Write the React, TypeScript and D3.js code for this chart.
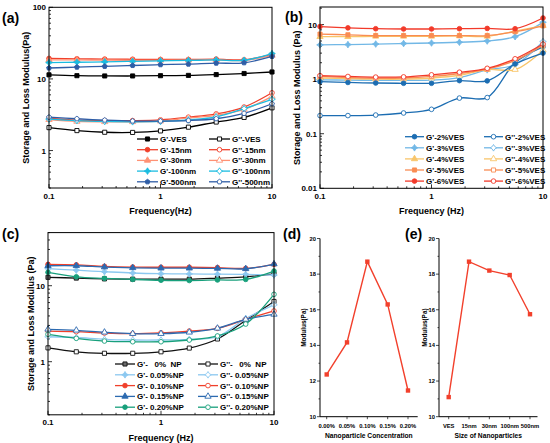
import React, { useRef, useEffect } from 'react';
import * as d3 from 'd3';

// shared frequency sweep (Hz)
const freq = [0.1, 0.178, 0.316, 0.562, 1, 1.78, 3.16, 5.62, 10];

// (a) particle size
const aNames = ['VES', '15nm', '30nm', '100nm', '500nm'];
const aGp = [
  [11.4, 11.1, 11.0, 11.0, 11.1, 11.2, 11.5, 11.9, 12.5],
  [19.3, 19.1, 18.9, 18.8, 18.7, 18.7, 18.9, 18.5, 22.0],
  [18.5, 18.4, 18.3, 18.2, 18.2, 18.3, 18.4, 18.1, 21.3],
  [16.9, 17.1, 17.3, 17.6, 17.9, 18.1, 18.4, 18.2, 22.6],
  [14.2, 14.6, 15.0, 15.4, 15.8, 16.1, 16.6, 16.8, 20.6]
];
const aGpp = [
  [2.09, 1.9, 1.8, 1.79, 1.88, 2.12, 2.5, 2.9, 3.95],
  [2.8, 2.65, 2.62, 2.62, 2.68, 2.92, 3.25, 4.05, 6.4],
  [2.7, 2.55, 2.52, 2.52, 2.58, 2.85, 3.1, 3.75, 5.7],
  [2.75, 2.62, 2.55, 2.52, 2.55, 2.68, 2.95, 3.85, 5.2],
  [2.92, 2.78, 2.66, 2.58, 2.58, 2.62, 2.78, 3.3, 4.5]
];

// (b) VES concentration
const bNames = ['2%VES', '3%VES', '4%VES', '5%VES', '6%VES'];
const bGp = [
  [0.9, 0.87, 0.85, 0.84, 0.84, 0.94, 0.93, 1.9, 3.0],
  [4.25, 4.3, 4.4, 4.5, 4.6, 4.75, 5.0, 6.0, 11.0],
  [6.0, 6.0, 6.1, 6.1, 6.1, 6.2, 6.1, 7.6, 9.6],
  [6.7, 6.5, 6.3, 6.3, 6.3, 6.3, 6.3, 7.4, 9.5],
  [9.2, 8.7, 8.4, 8.3, 8.3, 8.4, 8.5, 8.4, 13.2]
];
const bGpp = [
  [0.215, 0.215, 0.22, 0.24, 0.28, 0.45, 0.46, 2.0, 3.9],
  [0.97, 0.96, 0.95, 0.95, 0.96, 1.07, 1.48, 1.85, 4.9],
  [1.05, 1.02, 1.0, 1.0, 1.05, 1.18, 1.5, 1.5, 3.4],
  [1.12, 1.07, 1.04, 1.05, 1.12, 1.27, 1.52, 2.2, 4.2],
  [1.16, 1.12, 1.09, 1.1, 1.2, 1.34, 1.58, 2.36, 4.4]
];

// (c) nanoparticle concentration
const cGpLabels = ["G'-   0%  NP", "G'- 0.05%NP", "G'- 0.10%NP", "G'- 0.15%NP", "G'- 0.20%NP"];
const cGppLabels = ["G''-   0%  NP", "G''- 0.05%NP", "G''- 0.10%NP", "G''- 0.15%NP", "G''- 0.20%NP"];
const cGp = [
  [12.9, 12.6, 12.3, 12.2, 12.2, 12.2, 12.6, 13.1, 14.3],
  [16.8, 16.0, 15.3, 14.7, 14.4, 14.3, 14.2, 14.1, 13.8],
  [19.1, 18.8, 18.0, 17.6, 17.5, 17.5, 17.3, 16.9, 19.1],
  [18.3, 18.3, 17.6, 17.2, 17.0, 17.0, 16.9, 16.7, 19.3],
  [15.0, 13.1, 12.5, 12.1, 11.8, 11.7, 11.9, 12.1, 15.6]
];
const cGpp = [
  [1.52, 1.35, 1.29, 1.29, 1.35, 1.51, 1.99, 3.5, 6.2],
  [2.13, 2.08, 1.97, 1.93, 1.93, 1.97, 2.13, 3.7, 5.6],
  [2.53, 2.48, 2.38, 2.34, 2.4, 2.53, 2.75, 3.6, 4.65],
  [2.67, 2.59, 2.44, 2.34, 2.34, 2.44, 2.75, 3.6, 4.2],
  [2.29, 2.03, 1.87, 1.83, 1.83, 1.93, 2.18, 3.13, 7.7]
];

// (d), (e)
const dCats = ['0.00%', '0.05%', '0.10%', '0.15%', '0.20%'];
const dVals = [12.37, 14.17, 18.7, 16.3, 11.47];
const eCats = ['VES', '15nm', '30nm', '100nm', '500nm'];
const eVals = [11.1, 18.7, 18.2, 17.95, 15.75];
const modTicks = [10, 12, 14, 16, 18, 20];

const FONT = "'Liberation Sans', Arial, sans-serif";

// 4 point star marker
const star4 = {
  draw(ctx: any, size: number) {
    const r = Math.sqrt(size) * 0.8;
    const s = r * 0.38;
    ctx.moveTo(0, -r);
    ctx.lineTo(s, -s);
    ctx.lineTo(r, 0);
    ctx.lineTo(s, s);
    ctx.lineTo(0, r);
    ctx.lineTo(-s, s);
    ctx.lineTo(-r, 0);
    ctx.lineTo(-s, -s);
    ctx.closePath();
  }
};
const pentagon = {
  draw(ctx: any, size: number) {
    const r = Math.sqrt(size) * 0.62;
    for (let i = 0; i < 5; i++) {
      const a = -Math.PI / 2 + (i * 2 * Math.PI) / 5;
      if (i === 0) ctx.moveTo(r * Math.cos(a), r * Math.sin(a));
      else ctx.lineTo(r * Math.cos(a), r * Math.sin(a));
    }
    ctx.closePath();
  }
};

type Ser = { gp: number[]; gpp: number[]; color: string; sym: any; l1: string; l2: string; mfill?: string };

function drawLog(svg: any, p: any, series: Ser[]) {
  const x = d3.scaleLog().domain([0.1, 10]).range([p.l, p.r]);
  const y = d3.scaleLog().domain(p.yd).range([p.b, p.t]);
  const g = svg.append('g');
  const isMajor = (v: number) => Math.abs(Math.log10(v) - Math.round(Math.log10(v))) < 1e-6;
  const fmt = (v: number) => String(+v.toPrecision(3));

  // ticks (inward)
  x.ticks().forEach((v: number) => {
    const len = isMajor(v) ? 4 : 2;
    g.append('line').attr('x1', x(v)).attr('x2', x(v)).attr('y1', p.b).attr('y2', p.b - len).attr('stroke', '#000').attr('stroke-width', 0.8);
  });
  y.ticks().forEach((v: number) => {
    const len = isMajor(v) ? 4 : 2;
    g.append('line').attr('x1', p.l).attr('x2', p.l + len).attr('y1', y(v)).attr('y2', y(v)).attr('stroke', '#000').attr('stroke-width', 0.8);
  });

  const line = d3
    .line<number>()
    .x((_d, i) => x(freq[i]))
    .y((d) => y(d))
    .curve(d3.curveCatmullRom.alpha(0.5));

  const drawSeries = (vals: number[], s: Ser, filled: boolean) => {
    g.append('path').attr('d', line(vals)).attr('fill', 'none').attr('stroke', s.color).attr('stroke-width', 1.3);
    const sym = d3.symbol().type(s.sym).size(17);
    g.selectAll(null)
      .data(vals)
      .join('path')
      .attr('transform', (d: number, i: number) => `translate(${x(freq[i])},${y(d)})`)
      .attr('d', sym())
      .attr('fill', filled ? s.mfill || s.color : '#fff')
      .attr('stroke', s.color)
      .attr('stroke-width', 0.9);
  };
  series.forEach((s) => drawSeries(s.gpp, s, false));
  series.forEach((s) => drawSeries(s.gp, s, true));

  g.append('rect').attr('x', p.l).attr('y', p.t).attr('width', p.r - p.l).attr('height', p.b - p.t).attr('fill', 'none').attr('stroke', '#000').attr('stroke-width', 1);

  // tick labels
  x.ticks()
    .filter(isMajor)
    .forEach((v: number) => {
      g.append('text').attr('x', x(v)).attr('y', p.b + 10.5).attr('text-anchor', 'middle').attr('font-size', 8).text(fmt(v));
    });
  y.ticks()
    .filter(isMajor)
    .forEach((v: number) => {
      g.append('text').attr('x', p.l - 3).attr('y', y(v) + 3).attr('text-anchor', 'end').attr('font-size', 8).text(fmt(v));
    });

  // titles
  g.append('text').attr('x', (p.l + p.r) / 2).attr('y', p.b + 26).attr('text-anchor', 'middle').attr('font-size', 9).text(p.xTitle);
  g.append('text')
    .attr('transform', `translate(${p.ytx + 3},${(p.t + p.b) / 2}) rotate(-90)`)
    .attr('text-anchor', 'middle')
    .attr('font-size', 9)
    .text(p.yTitle);
  g.append('text').attr('x', p.tagX).attr('y', p.tagY).attr('font-size', 14).text(p.tag);

  // legend
  series.forEach((s, i) => {
    const ly = p.legY + i * p.legDy;
    [
      [p.lx1, s.l1, true],
      [p.lx2, s.l2, false]
    ].forEach(([lx, lab, filled]: any) => {
      g.append('line').attr('x1', lx).attr('x2', lx + p.lw).attr('y1', ly).attr('y2', ly).attr('stroke', s.color).attr('stroke-width', 1.3);
      g.append('path')
        .attr('transform', `translate(${lx + p.lw / 2},${ly})`)
        .attr('d', d3.symbol().type(s.sym).size(17)())
        .attr('fill', filled ? s.mfill || s.color : '#fff')
        .attr('stroke', s.color)
        .attr('stroke-width', 0.9);
      g.append('text')
        .attr('x', lx + p.lw + 2)
        .attr('y', ly + 3)
        .attr('font-size', 8)
        .attr('xml:space', 'preserve')
        .style('white-space', 'pre')
        .text(lab);
    });
  });
}

function drawCat(svg: any, p: any, cats: string[], vals: number[]) {
  const x = d3.scalePoint().domain(cats).range([p.px0, p.px1]);
  const y = d3.scaleLinear().domain([10, 20]).range([p.b, p.t]);
  const g = svg.append('g');
  g.append('line').attr('x1', p.l).attr('x2', p.l).attr('y1', p.t).attr('y2', p.b).attr('stroke', '#000').attr('stroke-width', 1);
  g.append('line').attr('x1', p.l).attr('x2', p.r).attr('y1', p.b).attr('y2', p.b).attr('stroke', '#000').attr('stroke-width', 1);
  d3.range(10, 20.01, 1).forEach((v: number) => {
    const len = v % 2 === 0 ? 3 : 1.5;
    g.append('line').attr('x1', p.l - len).attr('x2', p.l).attr('y1', y(v)).attr('y2', y(v)).attr('stroke', '#000').attr('stroke-width', 0.7);
  });
  modTicks.forEach((v) => {
    g.append('text').attr('x', p.l - 4).attr('y', y(v) + 2).attr('text-anchor', 'end').attr('font-size', 5.8).text(v);
  });
  cats.forEach((c) => {
    g.append('line').attr('x1', x(c)).attr('x2', x(c)).attr('y1', p.b).attr('y2', p.b + 2.5).attr('stroke', '#000').attr('stroke-width', 0.7);
    g.append('text').attr('x', x(c)).attr('y', p.b + 11.5).attr('text-anchor', 'middle').attr('font-size', 5.8).text(c);
  });
  const line = d3
    .line<number>()
    .x((_d, i) => x(cats[i]) as number)
    .y((d) => y(d));
  g.append('path').attr('d', line(vals)).attr('fill', 'none').attr('stroke', '#F2402C').attr('stroke-width', 1.4);
  g.selectAll(null)
    .data(vals)
    .join('rect')
    .attr('x', (_d: number, i: number) => (x(cats[i]) as number) - 2.2)
    .attr('y', (d: number) => y(d) - 2.2)
    .attr('width', 4.4)
    .attr('height', 4.4)
    .attr('fill', '#F2402C');
  g.append('text').attr('x', (p.l + p.r) / 2).attr('y', p.b + 21).attr('text-anchor', 'middle').attr('font-size', 6.7).text(p.xTitle);
  g.append('text')
    .attr('transform', `translate(${p.ytx + 2},${(p.t + p.b) / 2}) rotate(-90)`)
    .attr('text-anchor', 'middle')
    .attr('font-size', 6.4)
    .text('Modulus(Pa)');
  g.append('text').attr('x', p.tagX).attr('y', p.tagY).attr('font-size', 14).text(p.tag);
}

export default function App(): JSX.Element {
  const ref = useRef<SVGSVGElement>(null);
  useEffect(() => {
    if (ref.current == null) return;
    const svg = d3.select(ref.current);
    svg.selectAll('*').remove();

    const aCol = ['#000000', '#F0402B', '#FF9275', '#1BBCE0', '#2F5DA6'];
    const aSym = [d3.symbolSquare, d3.symbolCircle, d3.symbolTriangle, star4, pentagon];
    const bCol = ['#1C6DB2', '#72B8E6', '#F8C56A', '#F98C52', '#F23A2A'];
    const bSym = [d3.symbolCircle, star4, d3.symbolTriangle, d3.symbolSquare, d3.symbolCircle];
    const cCol = ['#111111', '#8CC8F0', '#F0402B', '#2C6AB0', '#18A07C'];
    const cSym = [d3.symbolSquare, star4, d3.symbolCircle, d3.symbolTriangle, d3.symbolCircle];

    drawLog(
      svg,
      { l: 49, r: 272, t: 7.3, b: 188, yd: [0.3, 100], xTitle: 'Frequency(Hz)', yTitle: 'Storage and Loss Modulus(Pa)', ytx: 26, tag: '(a)', tagX: 2, tagY: 23, lx1: 137, lx2: 209, lw: 21, legY: 139, legDy: 10.7 },
      aNames.map((n, i) => ({ gp: aGp[i], gpp: aGpp[i], color: aCol[i], sym: aSym[i], l1: `G'-${n}`, l2: `G''-${n}` }))
    );
    drawLog(
      svg,
      { l: 320, r: 543, t: 7, b: 188.3, yd: [0.01, 21], xTitle: 'Frequency (Hz)', yTitle: 'Storage and Loss Modulus (Pa)', ytx: 297, tag: '(b)', tagX: 285, tagY: 22, lx1: 405, lx2: 484, lw: 19, legY: 136.7, legDy: 11.1 },
      bNames.map((n, i) => ({ gp: bGp[i], gpp: bGpp[i], color: bCol[i], sym: bSym[i], l1: `G'-${n}`, l2: `G''-${n}` }))
    );
    drawLog(
      svg,
      { l: 48, r: 274, t: 232.6, b: 414.8, yd: [0.2, 50], xTitle: 'Frequency (Hz)', yTitle: 'Storage and Loss Modulus (Pa)', ytx: 31, tag: '(c)', tagX: 2, tagY: 239, lx1: 115, lx2: 198, lw: 20, legY: 364, legDy: 10.8 },
      cGpLabels.map((l, i) => ({ gp: cGp[i], gpp: cGpp[i], color: cCol[i], sym: cSym[i], l1: l, l2: cGppLabels[i], mfill: i === 0 ? '#6b6b6b' : undefined }))
    );
    drawCat(svg, { l: 320, r: 417.7, t: 238.5, b: 416.7, px0: 326.7, px1: 408, xTitle: 'Nanoparticle Concentration', ytx: 303.5, tag: '(d)', tagX: 283, tagY: 239 }, dCats, dVals);
    drawCat(svg, { l: 439, r: 537.5, t: 238.5, b: 416.7, px0: 448.7, px1: 530, xTitle: 'Size of Nanoparticles', ytx: 425, tag: '(e)', tagX: 405, tagY: 239 }, eCats, eVals);
  }, []);
  return (
    <svg
      ref={ref}
      width={550}
      height={443}
      fontFamily={FONT}
      fontWeight="bold"
      style={{ position: 'absolute', left: 0, top: 0, background: '#fff' }}
    />
  );
}
